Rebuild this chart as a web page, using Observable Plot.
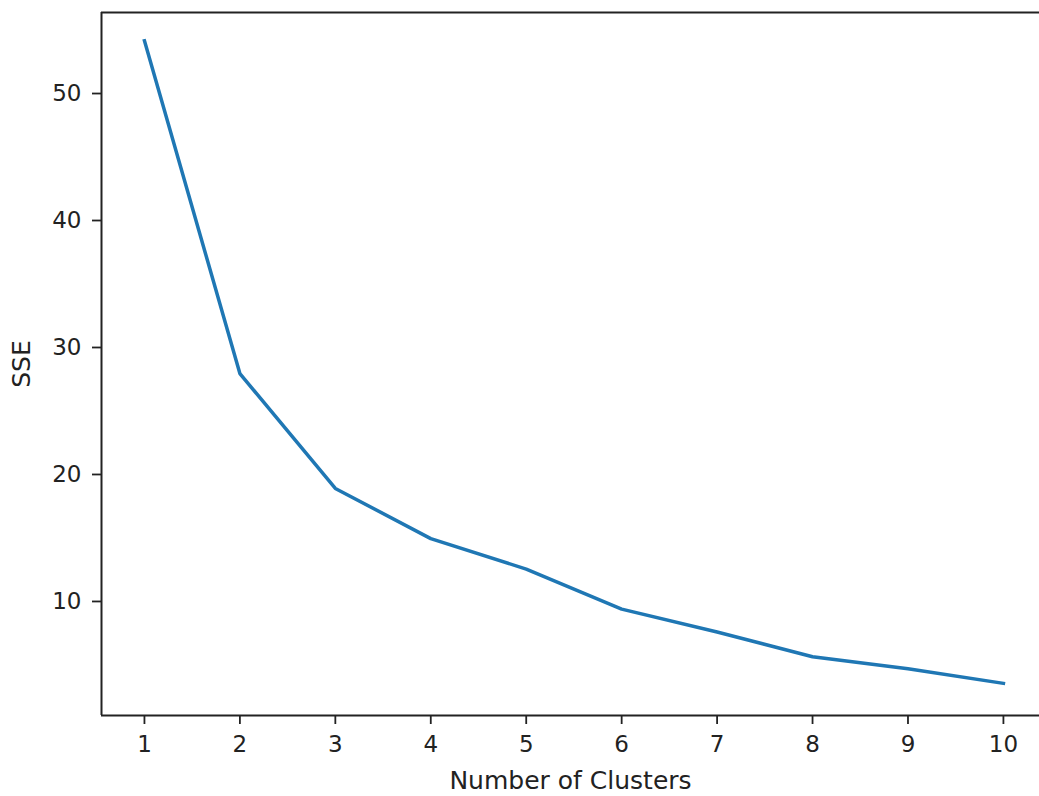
<!DOCTYPE html>
<html>
<head>
<meta charset="utf-8">
<script src="https://cdn.jsdelivr.net/npm/d3@7"></script>
<script src="https://cdn.jsdelivr.net/npm/@observablehq/plot@0.6"></script>
<style>
  html, body { margin: 0; padding: 0; background: #fff; overflow: hidden; }
</style>
</head>
<body>
<div id="chart"></div>
<script>
const clusters = [1, 2, 3, 4, 5, 6, 7, 8, 9, 10];
const sse = [54.15, 27.95, 18.9, 14.95, 12.55, 9.4, 7.6, 5.65, 4.7, 3.55];
const xTicks = [1, 2, 3, 4, 5, 6, 7, 8, 9, 10];
const yTicks = [10, 20, 30, 40, 50];
const xLabel = "Number of Clusters";
const yLabel = "SSE";
const xDomain = [0.55, 10.378];
const yDomain = [1.02, 56.38];

const data = clusters.map((k, i) => ({k, sse: sse[i]}));

const chart = Plot.plot({
  width: 1039,
  height: 796,
  marginLeft: 101,
  marginRight: 0,
  marginTop: 12,
  marginBottom: 81,
  style: {fontFamily: "DejaVu Sans", fontSize: "23px", color: "#222", background: "#fff"},
  x: {domain: xDomain},
  y: {domain: yDomain},
  marks: [
    Plot.axisX({ticks: xTicks, tickFormat: d => String(d), tickSize: 9, tickPadding: 11, strokeWidth: 1.8, label: null}),
    Plot.axisY({ticks: yTicks, tickFormat: d => String(d), tickSize: 9, tickPadding: 11, strokeWidth: 1.8, label: null}),
    Plot.text([xLabel], {frameAnchor: "bottom", dy: 65, lineAnchor: "middle", textAnchor: "middle", fontSize: 25, fill: "#222"}),
    Plot.text([yLabel], {frameAnchor: "left", dx: -80, lineAnchor: "middle", textAnchor: "middle", rotate: -90, fontSize: 25, fill: "#222"}),
    Plot.ruleX([xDomain[0]], {stroke: "#222", strokeWidth: 2}),
    Plot.ruleY(yDomain, {stroke: "#222", strokeWidth: 2}),
    Plot.line(data, {x: "k", y: "sse", stroke: "#1f77b4", strokeWidth: 3.5, strokeLinejoin: "round", strokeLinecap: "square"})
  ]
});
document.getElementById("chart").appendChild(chart);
</script>
</body>
</html>
